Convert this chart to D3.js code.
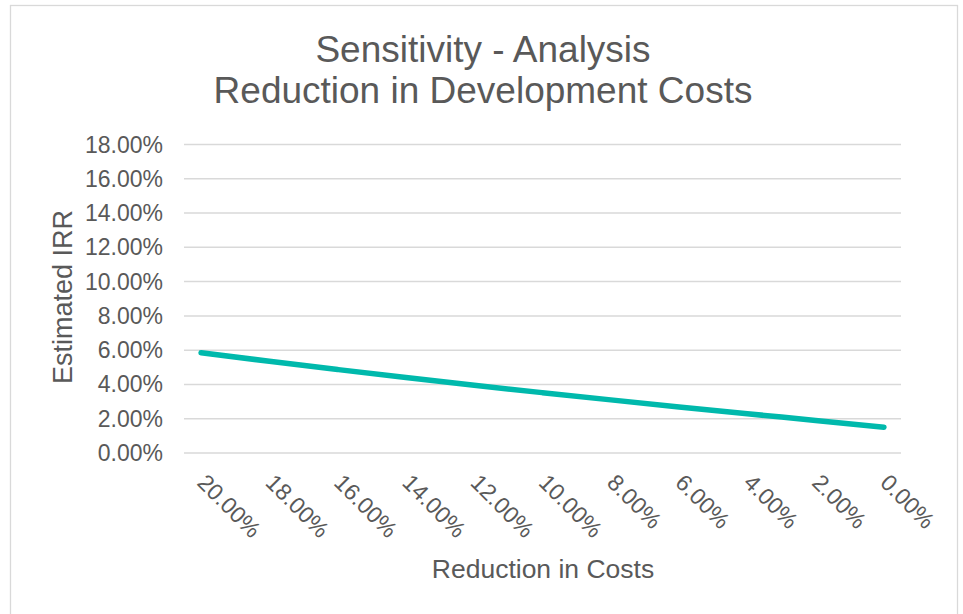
<!DOCTYPE html>
<html><head><meta charset="utf-8">
<script src="https://cdn.jsdelivr.net/npm/d3@7"></script>
<style>body{margin:0;background:#fff}svg{display:block;font-family:"Liberation Sans",Arial,sans-serif}</style>
</head><body><svg id="c" width="963" height="614"></svg>
<script>
const categories = ["20.00%","18.00%","16.00%","14.00%","12.00%","10.00%","8.00%","6.00%","4.00%","2.00%","0.00%"];
const irrValues = [5.85,5.35,4.87,4.40,3.95,3.52,3.10,2.69,2.29,1.90,1.50];
const yTicks = [0,2,4,6,8,10,12,14,16,18];
const titleLines = ["Sensitivity - Analysis","Reduction in Development Costs"];
const xTitle = "Reduction in Costs";
const yTitle = "Estimated IRR";

const svg = d3.select("#c");
const txt = "#595959", grid = "#d9d9d9", lineColor = "#00B9AC";
const L = 184, R = 901, T = 144.5, B = 453;

svg.append("rect").attr("x",10.5).attr("y",5.5).attr("width",947).attr("height",620)
  .attr("fill","#fff").attr("stroke",grid).attr("stroke-width",1.3);

const x = d3.scalePoint().domain(categories).range([L,R]).padding(0.25);
const y = d3.scaleLinear().domain([0,18]).range([B,T]);

// gridlines
svg.append("g").selectAll("line").data(yTicks).join("line")
  .attr("x1",L).attr("x2",R).attr("y1",d=>y(d)).attr("y2",d=>y(d))
  .attr("stroke",grid).attr("stroke-width",1.5);

// y tick labels
svg.append("g").selectAll("text").data(yTicks).join("text")
  .attr("x",163).attr("y",d=>y(d)+8).attr("text-anchor","end")
  .attr("fill",txt).attr("font-size",23).text(d=>d.toFixed(2)+"%");

// x tick labels
svg.append("g").selectAll("text").data(categories).join("text")
  .attr("transform",d=>`translate(${x(d)-5},484) rotate(45)`)
  .attr("fill",txt).attr("font-size",23).text(d=>d);

// line
const line = d3.line().x((d,i)=>x(categories[i])).y(d=>y(d)).curve(d3.curveMonotoneX);
svg.append("path").datum(irrValues).attr("d",line).attr("fill","none")
  .attr("stroke",lineColor).attr("stroke-width",5.5).attr("stroke-linecap","round").attr("stroke-linejoin","round");

// titles
svg.append("g").selectAll("text").data(titleLines).join("text")
  .attr("x",483).attr("y",(d,i)=>62+i*41).attr("text-anchor","middle")
  .attr("fill",txt).attr("font-size",37).text(d=>d);

svg.append("text").attr("x",543).attr("y",578).attr("text-anchor","middle")
  .attr("fill",txt).attr("font-size",26.5).text(xTitle);

svg.append("text").attr("transform","translate(72,297) rotate(-90)").attr("text-anchor","middle")
  .attr("fill",txt).attr("font-size",27).text(yTitle);
</script></body></html>
